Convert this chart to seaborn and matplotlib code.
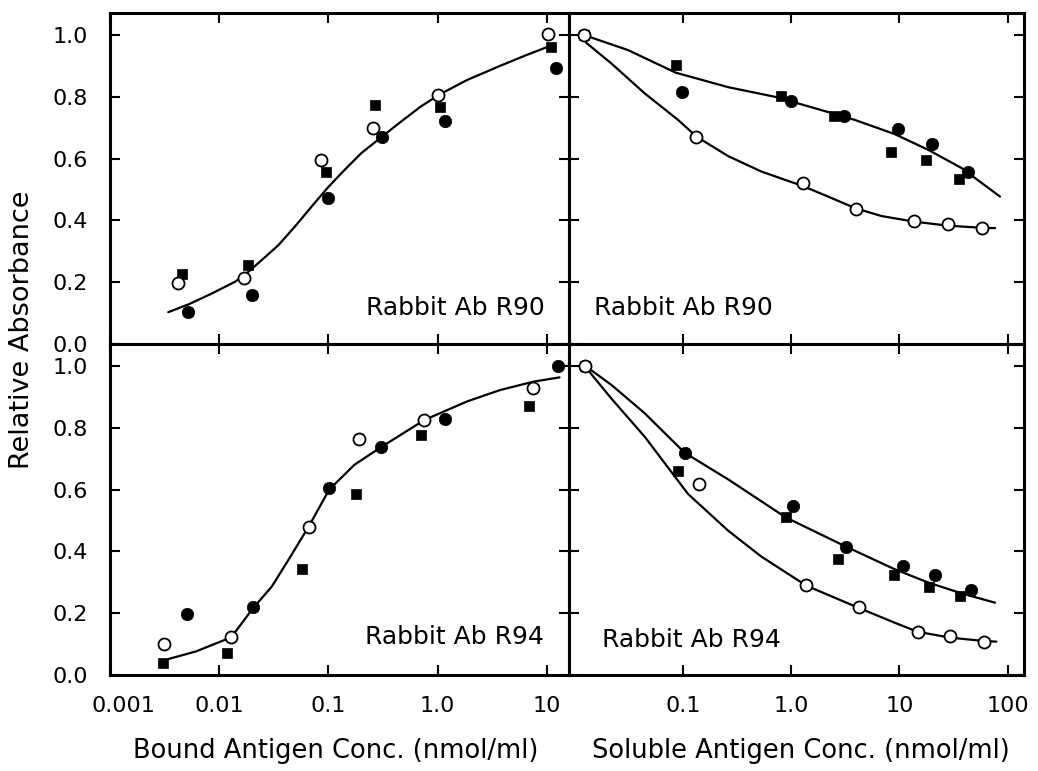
import numpy as np
import pandas as pd
import matplotlib
matplotlib.use("Agg")
import matplotlib.pyplot as plt
import matplotlib.transforms as mtransforms
from matplotlib.ticker import FixedLocator, FixedFormatter, NullLocator
import seaborn as sns

sns.set_theme(style="ticks")
plt.rcParams['font.family'] = ['DejaVu Sans']

# ---- data ----
# top-left: bound antigen, Rabbit Ab R90
tl_open_x = [0.00424, 0.0168, 0.0863, 0.257, 1.02, 10.2]
tl_open_y = [0.197, 0.213, 0.595, 0.698, 0.806, 1.003]
tl_sq_x = [0.0046, 0.0182, 0.0946, 0.267, 1.06, 10.9]
tl_sq_y = [0.226, 0.256, 0.558, 0.773, 0.766, 0.962]
tl_dot_x = [0.0052, 0.020, 0.099, 0.31, 1.18, 12.1]
tl_dot_y = [0.105, 0.158, 0.474, 0.669, 0.72, 0.894]
tl_fit_x = [0.00342, 0.0053, 0.00863, 0.01406, 0.0186, 0.0246, 0.0349, 0.0494, 0.070, 0.0993,
            0.1406, 0.1995, 0.31, 0.461, 0.70, 1.027, 1.86, 3.74, 6.53, 10.3]
tl_fit_y = [0.103, 0.129, 0.164, 0.202, 0.234, 0.272, 0.320, 0.380, 0.444, 0.507,
            0.563, 0.617, 0.671, 0.719, 0.768, 0.806, 0.854, 0.900, 0.935, 0.962]

# top-right: soluble antigen, Rabbit Ab R90
tr_open_x = [0.0121, 0.133, 1.28, 3.93, 13.6, 27.9, 57.5]
tr_open_y = [1.0, 0.671, 0.522, 0.436, 0.398, 0.387, 0.374]
tr_sq_x = [0.0121, 0.0855, 0.811, 2.46, 8.33, 17.7, 35.5]
tr_sq_y = [1.0, 0.903, 0.804, 0.738, 0.621, 0.594, 0.534]
tr_dot_x = [0.0121, 0.098, 1.0, 3.04, 9.75, 20.1, 42.7]
tr_dot_y = [1.0, 0.815, 0.787, 0.737, 0.695, 0.646, 0.558]
tr_fit1_x = [0.0121, 0.031, 0.0855, 0.261, 0.703, 1.65, 3.87, 9.06, 18.5, 37.6, 84.9]
tr_fit1_y = [1.0, 0.951, 0.878, 0.831, 0.800, 0.763, 0.725, 0.679, 0.628, 0.569, 0.477]
tr_fit2_x = [0.0127, 0.0217, 0.0442, 0.090, 0.133, 0.261, 0.53, 1.28, 2.19, 3.93, 6.83,
             13.6, 27.9, 57.5, 76.4]
tr_fit2_y = [0.975, 0.908, 0.811, 0.725, 0.671, 0.608, 0.558, 0.511, 0.477, 0.439, 0.414,
             0.396, 0.383, 0.376, 0.375]

# bottom-left: bound antigen, Rabbit Ab R94
bl_open_x = [0.0031, 0.0129, 0.066, 0.19, 0.757, 7.46]
bl_open_y = [0.10, 0.122, 0.48, 0.764, 0.825, 0.928]
bl_sq_x = [0.00303, 0.0118, 0.0569, 0.18, 0.70, 6.9]
bl_sq_y = [0.04, 0.07, 0.343, 0.585, 0.775, 0.871]
bl_dot_x = [0.00512, 0.0204, 0.1014, 0.303, 1.18, 12.6]
bl_dot_y = [0.197, 0.219, 0.604, 0.739, 0.828, 1.0]
bl_fit_x = [0.00337, 0.0061, 0.0129, 0.0204, 0.0303, 0.043, 0.066, 0.1014, 0.173, 0.303,
            0.757, 1.86, 3.74, 7.52, 13.1]
bl_fit_y = [0.051, 0.076, 0.122, 0.216, 0.286, 0.372, 0.48, 0.599, 0.68, 0.737,
            0.825, 0.885, 0.922, 0.949, 0.963]

# bottom-right: soluble antigen, Rabbit Ab R94
br_open_x = [0.0125, 0.1406, 1.38, 4.21, 14.7, 29.2, 60.4]
br_open_y = [1.0, 0.617, 0.291, 0.219, 0.138, 0.126, 0.108]
br_sq_x = [0.0125, 0.090, 0.889, 2.72, 8.95, 18.7, 36.2]
br_sq_y = [1.0, 0.66, 0.512, 0.376, 0.323, 0.286, 0.256]
br_dot_x = [0.0125, 0.1035, 1.04, 3.19, 10.8, 21.2, 45.8]
br_dot_y = [1.0, 0.719, 0.548, 0.415, 0.353, 0.324, 0.275]
br_fit1_x = [0.0125, 0.0217, 0.0442, 0.1035, 0.261, 0.889, 3.13, 9.06, 18.5, 37.6, 76.4]
br_fit1_y = [1.0, 0.939, 0.847, 0.719, 0.633, 0.51, 0.417, 0.342, 0.299, 0.264, 0.234]
br_fit2_x = [0.0132, 0.0217, 0.0442, 0.111, 0.261, 0.53, 1.38, 4.21, 9.06, 14.7, 29.2,
             60.4, 78.6]
br_fit2_y = [0.987, 0.895, 0.771, 0.586, 0.467, 0.383, 0.289, 0.217, 0.169, 0.14, 0.121,
             0.11, 0.108]

y_ticks = [0.0, 0.2, 0.4, 0.6, 0.8, 1.0]
y_labels = ["0.0", "0.2", "0.4", "0.6", "0.8", "1.0"]
bound_ticks = [0.001, 0.01, 0.1, 1.0, 10]
bound_labels = ["0.001", "0.01", "0.1", "1.0", "10"]
soluble_ticks = [0.1, 1.0, 10, 100]
soluble_labels = ["0.1", "1.0", "10", "100"]

panels = [
    dict(name="Rabbit Ab R90", side="bound", row=0,
         open=(tl_open_x, tl_open_y), sq=(tl_sq_x, tl_sq_y), dot=(tl_dot_x, tl_dot_y),
         fits=[(tl_fit_x, tl_fit_y)]),
    dict(name="Rabbit Ab R90", side="soluble", row=0,
         open=(tr_open_x, tr_open_y), sq=(tr_sq_x, tr_sq_y), dot=(tr_dot_x, tr_dot_y),
         fits=[(tr_fit1_x, tr_fit1_y), (tr_fit2_x, tr_fit2_y)]),
    dict(name="Rabbit Ab R94", side="bound", row=1,
         open=(bl_open_x, bl_open_y), sq=(bl_sq_x, bl_sq_y), dot=(bl_dot_x, bl_dot_y),
         fits=[(bl_fit_x, bl_fit_y)]),
    dict(name="Rabbit Ab R94", side="soluble", row=1,
         open=(br_open_x, br_open_y), sq=(br_sq_x, br_sq_y), dot=(br_dot_x, br_dot_y),
         fits=[(br_fit1_x, br_fit1_y), (br_fit2_x, br_fit2_y)]),
]

fig = plt.figure(figsize=(10.38, 7.71), dpi=100)

W, H = 1038, 771
col_x = {"bound": (110, 569), "soluble": (569, 1024)}
row_y = {0: (13, 344), 1: (344, 675)}
xlims = {"bound": (0.001, 16.0), "soluble": (0.00883, 141.5)}
label_pos = {("bound", 0): (0.948, 0.088, "right"), ("soluble", 0): (0.055, 0.088, "left"),
             ("bound", 1): (0.946, 0.094, "right"), ("soluble", 1): (0.072, 0.086, "left")}

for p in panels:
    x0, x1 = col_x[p["side"]]
    y0, y1 = row_y[p["row"]]
    ax = fig.add_axes([x0 / W, 1 - y1 / H, (x1 - x0) / W, (y1 - y0) / H])
    ax.set_xscale("log")

    for fx, fy in p["fits"]:
        sns.lineplot(x=fx, y=fy, ax=ax, color="black", lw=1.6, sort=False,
                     estimator=None, zorder=2)
    sns.scatterplot(x=p["sq"][0], y=p["sq"][1], ax=ax, marker="s", s=55,
                    color="black", edgecolor="black", linewidth=0.5, zorder=3)
    sns.scatterplot(x=p["dot"][0], y=p["dot"][1], ax=ax, marker="o", s=80,
                    color="black", edgecolor="black", linewidth=0.5, zorder=3)
    sns.scatterplot(x=p["open"][0], y=p["open"][1], ax=ax, marker="o", s=75,
                    color="white", edgecolor="black", linewidth=1.3, zorder=4)

    ax.set_xlim(*xlims[p["side"]])
    ax.set_ylim(0, 1.071)
    ax.yaxis.set_major_locator(FixedLocator(y_ticks))
    ax.yaxis.set_minor_locator(NullLocator())
    ax.xaxis.set_minor_locator(NullLocator())
    if p["side"] == "bound":
        ax.xaxis.set_major_locator(FixedLocator(bound_ticks))
        ax.xaxis.set_major_formatter(FixedFormatter(bound_labels))
        ax.yaxis.set_major_formatter(FixedFormatter(y_labels))
    else:
        ax.xaxis.set_major_locator(FixedLocator(soluble_ticks))
        ax.xaxis.set_major_formatter(FixedFormatter(soluble_labels))
        ax.tick_params(axis="y", labelleft=False)
    if p["row"] == 0:
        ax.tick_params(axis="x", labelbottom=False)

    ax.tick_params(which="both", direction="in", top=True, right=True,
                   length=7, width=1.5, color="black", labelsize=16,
                   labelcolor="black")
    ax.tick_params(axis="y", pad=16)
    ax.tick_params(axis="x", pad=15)
    for sp in ax.spines.values():
        sp.set_visible(True)
        sp.set_linewidth(2.2)
        sp.set_color("black")
    ax.set_xlabel("")
    ax.set_ylabel("")
    ax.set_facecolor("white")

    tx, ty, ha = label_pos[(p["side"], p["row"])]
    ax.text(tx, ty, p["name"], transform=ax.transAxes, ha=ha, va="baseline",
            fontsize=18, color="black")

    # nudge the first bound tick label off the spine, as in the original
    if p["side"] == "bound" and p["row"] == 1:
        fig.canvas.draw()
        lab = ax.get_xticklabels()[0]
        lab.set_transform(lab.get_transform() +
                          mtransforms.ScaledTranslation(13 / 100, 0, fig.dpi_scale_trans))

fig.text(22 / W, 1 - 330 / H, "Relative Absorbance", rotation=90, ha="center",
         va="center", fontsize=19.5, color="black")
fig.text(336 / W, 1 - 758 / H, "Bound Antigen Conc. (nmol/ml)", ha="center",
         va="baseline", fontsize=18.5, color="black")
fig.text(801 / W, 1 - 758 / H, "Soluble Antigen Conc. (nmol/ml)", ha="center",
         va="baseline", fontsize=18.5, color="black")

fig.savefig("out.png", dpi=100, facecolor="white")
